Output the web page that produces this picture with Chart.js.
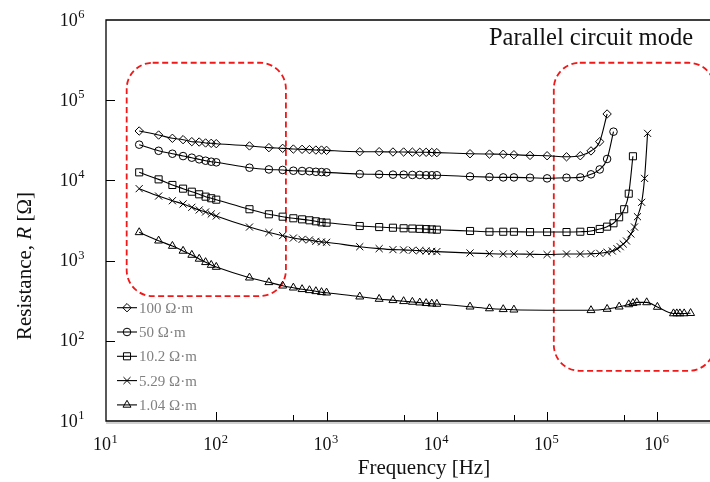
<!DOCTYPE html>
<html>
<head>
<meta charset="utf-8">
<title>Resistance vs frequency</title>
<script src="https://cdn.jsdelivr.net/npm/chart.js@4/dist/chart.umd.min.js"></script>
<style>
  html, body { margin: 0; padding: 0; background: #fff; }
  #wrap { width: 710px; height: 482px; overflow: hidden; }
</style>
</head>
<body>
<div id="wrap"><canvas id="chart" width="710" height="482"></canvas></div>
<script>
// ---- measured data: frequency [Hz] and resistance [Ω] for each soil resistivity ----
const seriesLabels = ["100 Ω·m", "50 Ω·m", "10.2 Ω·m", "5.29 Ω·m", "1.04 Ω·m"];
const pointStyles = ["rectRot", "circle", "rect", "crossRot", "triangle"];
const pointSizes = [4.2, 3.8, 5, 5, 4.6];

const freq100 = [20, 30, 40, 50, 60, 70, 80, 90, 100, 200, 300, 400, 500, 600, 700, 800, 900, 1000,
  2000, 3000, 4000, 5000, 6000, 7000, 8000, 9000, 10000, 20000, 30000, 40000, 50000, 70000,
  100000, 150000, 200000, 250000, 300000, 350000];
const res100 = [41300, 36800, 33500, 32200, 30400, 30100, 29300, 29000, 28700, 26900, 25600, 25100, 24600, 24400, 24200, 23900, 23900, 23700,
  22800, 22800, 22600, 22600, 22500, 22400, 22400, 22300, 22200, 21500, 21300, 21200, 20900, 20500,
  20300, 19700, 20300, 23300, 30400, 67300];

const freq50 = [20, 30, 40, 50, 60, 70, 80, 90, 100, 200, 300, 400, 500, 600, 700, 800, 900, 1000,
  2000, 3000, 4000, 5000, 6000, 7000, 8000, 9000, 10000, 20000, 30000, 40000, 50000, 70000,
  100000, 150000, 200000, 250000, 300000, 350000, 400000];
const res50 = [27900, 23400, 21500, 20100, 19200, 18300, 17600, 17100, 16800, 14400, 13700, 13500, 13200, 13100, 13000, 12800, 12700, 12600,
  12000, 11900, 11800, 11800, 11700, 11700, 11600, 11600, 11600, 11200, 11000, 10900, 10900, 10800,
  10600, 10800, 10900, 11900, 13700, 18500, 40500];

const freq10 = [20, 30, 40, 50, 60, 70, 80, 90, 100, 200, 300, 400, 500, 600, 700, 800, 900, 1000,
  2000, 3000, 4000, 5000, 6000, 7000, 8000, 9000, 10000, 20000, 30000, 40000, 50000, 70000,
  100000, 150000, 200000, 250000, 300000, 350000, 400000, 450000, 500000, 550000, 600000];
const res10 = [12600, 10300, 8770, 7890, 7230, 6710, 6270, 5990, 5750, 4370, 3780, 3530, 3370, 3270, 3180, 3090, 3000, 2970,
  2700, 2620, 2570, 2530, 2510, 2490, 2470, 2450, 2430, 2340, 2290, 2290, 2290, 2270,
  2270, 2270, 2290, 2340, 2480, 2650, 2920, 3470, 4370, 6830, 20000];

const freq5 = [20, 30, 40, 50, 60, 70, 80, 90, 100, 200, 300, 400, 500, 600, 700, 800, 900, 1000,
  2000, 3000, 4000, 5000, 6000, 7000, 8000, 9000, 10000, 20000, 30000, 40000, 50000, 70000,
  100000, 150000, 200000, 250000, 300000, 350000, 390000, 430000, 460000, 490000, 525000,
  575000, 620000, 660000, 720000, 765000, 815000];
const res5 = [7890, 6380, 5580, 5080, 4620, 4280, 4040, 3810, 3600, 2620, 2240, 2050, 1910, 1840, 1810, 1740, 1710, 1690,
  1490, 1410, 1370, 1360, 1345, 1330, 1320, 1305, 1295, 1245, 1220, 1210, 1210, 1200,
  1190, 1210, 1210, 1219, 1233, 1269, 1318, 1407, 1490, 1611, 1755,
  2146, 2625, 3527, 5329, 10600, 38600];

const freq1 = [20, 30, 40, 50, 60, 70, 80, 90, 100, 200, 300, 400, 500, 600, 700, 800, 900, 1000,
  2000, 3000, 4000, 5000, 6000, 7000, 8000, 9000, 10000, 20000, 30000, 40000, 50000,
  250000, 350000, 450000, 550000, 600000, 650000, 800000, 1000000, 1400000, 1500000, 1600000,
  1750000, 2000000];
const res1 = [2250, 1770, 1520, 1320, 1175, 1050, 953, 881, 832, 612, 536, 486, 459, 439, 426, 414, 403, 398,
  355, 332, 320, 311, 305, 299, 294, 290, 288, 266, 253, 247, 244,
  240, 249, 266, 284, 294, 301, 301, 264, 219, 219, 219,
  219, 221];

const freqSets = [freq100, freq50, freq10, freq5, freq1];
const resSets = [res100, res50, res10, res5, res1];

// axis ranges
const xMin = 10, xMax = 3000000;
const yMin = 10, yMax = 1000000;

// dashed boxes around the low- and high-frequency regions: [fLow, fHigh, rTop, rBottom]
const regionBoxes = [
  [15.4, 428, 293000, 361],
  [115000, 3300000, 293000, 42.2]
];

const SERIF = "'Liberation Serif', 'Times New Roman', serif";

const datasets = seriesLabels.map((label, i) => ({
  label,
  data: freqSets[i].map((f, j) => ({ x: f, y: resSets[i][j] })),
  borderColor: "#000",
  borderWidth: 1.1,
  pointStyle: pointStyles[i],
  pointRadius: pointSizes[i],
  pointBorderColor: "#000",
  pointBorderWidth: 1,
  pointBackgroundColor: "rgba(0,0,0,0)",
  cubicInterpolationMode: "monotone",
  fill: false
}));

function drawPower(ctx, exp, x, y, align) {
  // "10" with a raised exponent
  ctx.font = "18px " + SERIF;
  const wBase = ctx.measureText("10").width;
  ctx.font = "12.5px " + SERIF;
  const wExp = ctx.measureText(String(exp)).width;
  const total = wBase + wExp;
  let x0 = align === "center" ? x - total / 2 : x - total;
  ctx.textAlign = "left";
  ctx.textBaseline = "alphabetic";
  ctx.font = "18px " + SERIF;
  ctx.fillText("10", x0, y);
  ctx.font = "12.5px " + SERIF;
  ctx.fillText(String(exp), x0 + wBase + 0.5, y - 7.5);
}

const regionPlugin = {
  id: "regions",
  beforeDatasetsDraw(chart) {
    const { ctx, scales: { x, y } } = chart;
    ctx.save();
    ctx.strokeStyle = "#f01818";
    ctx.lineWidth = 1.8;
    ctx.setLineDash([6, 3.5]);
    regionBoxes.forEach(b => {
      const x0 = x.getPixelForValue(b[0]);
      const x1 = x.getPixelForValue(b[1]);
      const y0 = y.getPixelForValue(b[2]);
      const y1 = y.getPixelForValue(b[3]);
      ctx.beginPath();
      ctx.roundRect(x0, y0, x1 - x0, y1 - y0, 26);
      ctx.stroke();
    });
    ctx.restore();
  }
};

const framePlugin = {
  id: "frame",
  afterDraw(chart) {
    const { ctx, chartArea: a, scales: { x, y } } = chart;
    ctx.save();

    // faint shadow under the frequency axis
    ctx.strokeStyle = "#d0d0d0";
    ctx.lineWidth = 2;
    ctx.beginPath();
    ctx.moveTo(a.left, a.bottom + 2);
    ctx.lineTo(a.right, a.bottom + 2);
    ctx.stroke();

    // frame: left, top, bottom
    ctx.strokeStyle = "#000";
    ctx.lineWidth = 1.3;
    ctx.beginPath();
    ctx.moveTo(a.right + 5, a.top);
    ctx.lineTo(a.left, a.top);
    ctx.lineTo(a.left, a.bottom);
    ctx.lineTo(a.right + 5, a.bottom);
    ctx.stroke();

    // inward ticks on the frequency axis (log scale ticks)
    ctx.lineWidth = 1;
    x.ticks.forEach(t => {
      const lg = Math.log10(t.value);
      const major = Math.abs(lg - Math.round(lg)) < 1e-9;
      const px = Math.round(x.getPixelForValue(t.value)) + 0.5;
      if (px <= a.left + 1) return;
      ctx.beginPath();
      ctx.moveTo(px, a.bottom);
      ctx.lineTo(px, a.bottom - (major ? 9 : 6));
      ctx.stroke();
    });

    // inward major ticks on the resistance axis
    y.ticks.forEach(t => {
      const lg = Math.log10(t.value);
      if (Math.abs(lg - Math.round(lg)) > 1e-9) return;
      const py = Math.round(y.getPixelForValue(t.value)) + 0.5;
      if (py <= a.top + 1 || py >= a.bottom - 1) return;
      ctx.beginPath();
      ctx.moveTo(a.left, py);
      ctx.lineTo(a.left + 9, py);
      ctx.stroke();
    });

    // tick labels
    ctx.fillStyle = "#111";
    for (let e = 1; e <= 6; e++) {
      drawPower(ctx, e, x.getPixelForValue(Math.pow(10, e)) - 1, 450, "center");
      drawPower(ctx, e, 84, y.getPixelForValue(Math.pow(10, e)) + 5.5, "right");
    }

    // axis titles
    ctx.fillStyle = "#111";
    ctx.font = "21px " + SERIF;
    ctx.textAlign = "center";
    ctx.textBaseline = "alphabetic";
    ctx.fillText("Frequency [Hz]", 424, 474);

    const parts = [["Resistance, ", "21px " + SERIF], ["R", "italic 21px " + SERIF], [" [Ω]", "21px " + SERIF]];
    let total = 0;
    parts.forEach(p => { ctx.font = p[1]; total += ctx.measureText(p[0]).width; });
    ctx.save();
    ctx.translate(31, 266);
    ctx.rotate(-Math.PI / 2);
    ctx.textAlign = "left";
    let pos = -total / 2;
    parts.forEach(p => {
      ctx.font = p[1];
      ctx.fillText(p[0], pos, 0);
      pos += ctx.measureText(p[0]).width;
    });
    ctx.restore();

    // mode caption
    ctx.font = "24.5px " + SERIF;
    ctx.textAlign = "right";
    ctx.fillText("Parallel circuit mode", 693, 45);

    // legend in the lower-left corner
    chart.data.datasets.forEach((ds, i) => {
      const cy = 307.7 + i * 24.3;
      ctx.strokeStyle = "#000";
      ctx.lineWidth = 1.1;
      ctx.beginPath();
      ctx.moveTo(117, cy);
      ctx.lineTo(137, cy);
      ctx.stroke();
      ctx.fillStyle = "rgba(0,0,0,0)";
      ctx.lineWidth = 1;
      Chart.helpers.drawPoint(ctx, {
        pointStyle: ds.pointStyle,
        radius: ds.pointRadius,
        borderWidth: 1,
        rotation: 0
      }, 127, cy);
      ctx.fillStyle = "#808080";
      ctx.font = "15px " + SERIF;
      ctx.textAlign = "left";
      ctx.fillText(ds.label, 139, cy + 5);
    });

    ctx.restore();
  }
};

new Chart(document.getElementById("chart"), {
  type: "line",
  data: { datasets },
  options: {
    responsive: false,
    animation: false,
    layout: { autoPadding: false, padding: { left: 106, top: 20, right: 0, bottom: 61 } },
    plugins: {
      legend: { display: false },
      tooltip: { enabled: false },
      title: { display: false }
    },
    scales: {
      x: { type: "logarithmic", min: xMin, max: xMax, display: false },
      y: { type: "logarithmic", min: yMin, max: yMax, display: false }
    }
  },
  plugins: [regionPlugin, framePlugin]
});
</script>
</body>
</html>
